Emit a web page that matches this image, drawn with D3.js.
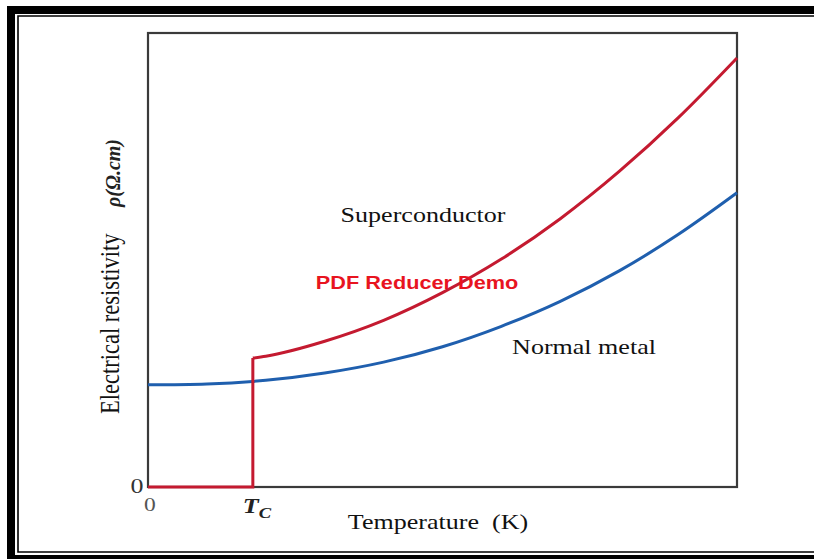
<!DOCTYPE html>
<html>
<head>
<meta charset="utf-8">
<script src="https://cdn.jsdelivr.net/npm/d3@7"></script>
<style>
  html, body { margin: 0; padding: 0; background: #fff; }
  svg { display: block; }
</style>
</head>
<body>
<svg id="chart" width="814" height="559"></svg>
<script>
// Temperature axis runs 0..100 (arbitrary units), resistivity 0..100 (arbitrary units)
const criticalTemp = 17.8;

// Normal metal: smooth rise from a residual resistivity
const metalTemps = [0, 10, 20, 30, 40, 50, 60, 70, 80, 90, 100];
const metalRho   = [22.5, 22.7, 23.5, 25.1, 27.5, 30.9, 35.4, 40.9, 47.6, 55.6, 64.8];

// Superconductor: zero below Tc, then jumps and rises
const superStepTemps = [0, 17.8, 17.8];
const superStepRho   = [0, 0, 28.4];
const superTemps = [17.8, 20, 30, 40, 50, 60, 70, 80, 90, 100];
const superRho   = [28.4, 28.8, 32.1, 36.7, 42.8, 50.2, 59.1, 69.5, 81.3, 94.5];

const xTickValues = [0, criticalTemp];
const yTickValues = [0];

const svg = d3.select("#chart");
const W = 814, H = 559;
const STRETCH = 1.24;   // glyphs are drawn wide

// Page frame: heavy black band with a thin inner rule
svg.append("rect").attr("x", 7).attr("y", 6).attr("width", W + 20).attr("height", H + 20).attr("fill", "#000");
svg.append("rect").attr("x", 15).attr("y", 14).attr("width", W + 20).attr("height", 555 - 14).attr("fill", "#fff");
svg.append("path")
  .attr("d", `M${W + 10},16 H18 V552 H${W + 10}`)
  .attr("fill", "none").attr("stroke", "#000").attr("stroke-width", 1.6);

const plot = { left: 148, top: 33, right: 737, bottom: 487 };

const x = d3.scaleLinear().domain([0, 100]).range([plot.left, plot.right]);
const y = d3.scaleLinear().domain([0, 100]).range([plot.bottom, plot.top]);

const serif = "'Liberation Serif', 'Times New Roman', Times, serif";

// Wide text helper: anchored at (cx, cy), stretched horizontally
function wideText(cx, cy, anchor) {
  return svg.append("text")
    .attr("transform", `translate(${cx},${cy}) scale(${STRETCH},1)`)
    .attr("text-anchor", anchor || "middle");
}

// Plot box
svg.append("rect")
  .attr("x", plot.left).attr("y", plot.top)
  .attr("width", plot.right - plot.left).attr("height", plot.bottom - plot.top)
  .attr("fill", "none").attr("stroke", "#3a3a3a").attr("stroke-width", 2.2);

const smoothLine = d3.line().x(d => x(d[0])).y(d => y(d[1])).curve(d3.curveMonotoneX);
const stepLine = d3.line().x(d => x(d[0])).y(d => y(d[1]));

// Normal metal curve
svg.append("path")
  .datum(metalTemps.map((t, i) => [t, metalRho[i]]))
  .attr("d", smoothLine)
  .attr("fill", "none").attr("stroke", "#1f5fae").attr("stroke-width", 3);

// Superconductor: zero-resistance segment and jump at Tc
svg.append("path")
  .datum(superStepTemps.map((t, i) => [t, superStepRho[i]]))
  .attr("d", stepLine)
  .attr("fill", "none").attr("stroke", "#c41a30").attr("stroke-width", 3)
  .attr("stroke-linejoin", "miter");

// Superconductor: normal-state branch above Tc
svg.append("path")
  .datum(superTemps.map((t, i) => [t, superRho[i]]))
  .attr("d", smoothLine)
  .attr("fill", "none").attr("stroke", "#c41a30").attr("stroke-width", 3)
  .attr("stroke-linejoin", "miter");

// Tick labels
wideText(x(xTickValues[0]) + 2, plot.bottom + 24)
  .attr("font-family", serif).attr("font-size", 19).attr("fill", "#555")
  .text("0");

const tc = wideText(x(xTickValues[1]) - 10, plot.bottom + 26, "start")
  .attr("font-family", serif).attr("font-size", 21).attr("font-style", "italic")
  .attr("font-weight", "bold").attr("fill", "#222");
tc.append("tspan").text("T");
tc.append("tspan").attr("dy", 5).attr("font-size", 15).text("C");

wideText(plot.left - 11, y(yTickValues[0]) + 6)
  .attr("font-family", serif).attr("font-size", 21).attr("fill", "#333")
  .text("0");

// Axis titles
wideText(438, 529)
  .attr("font-family", serif).attr("font-size", 21).attr("fill", "#111")
  .attr("xml:space", "preserve")
  .text("Temperature  (K)");

svg.append("text")
  .attr("transform", `translate(119,414) scale(${STRETCH},1) rotate(-90)`)
  .attr("font-family", serif).attr("font-size", 22.5).attr("fill", "#111")
  .text("Electrical resistivity");
svg.append("text")
  .attr("transform", "translate(120,207) rotate(-90)")
  .attr("font-family", serif).attr("font-size", 20).attr("font-style", "italic")
  .attr("font-weight", "bold").attr("fill", "#222")
  .text("ρ(Ω.cm)");

// Curve annotations
wideText(423, 222)
  .attr("font-family", serif).attr("font-size", 21).attr("fill", "#111")
  .text("Superconductor");

wideText(584, 354)
  .attr("font-family", serif).attr("font-size", 21).attr("fill", "#111")
  .text("Normal metal");

wideText(417, 289)
  .attr("font-family", "'Liberation Sans', Arial, sans-serif").attr("font-size", 17.5)
  .attr("font-weight", "bold").attr("fill", "#e8141f")
  .text("PDF Reducer Demo");
</script>
</body>
</html>
